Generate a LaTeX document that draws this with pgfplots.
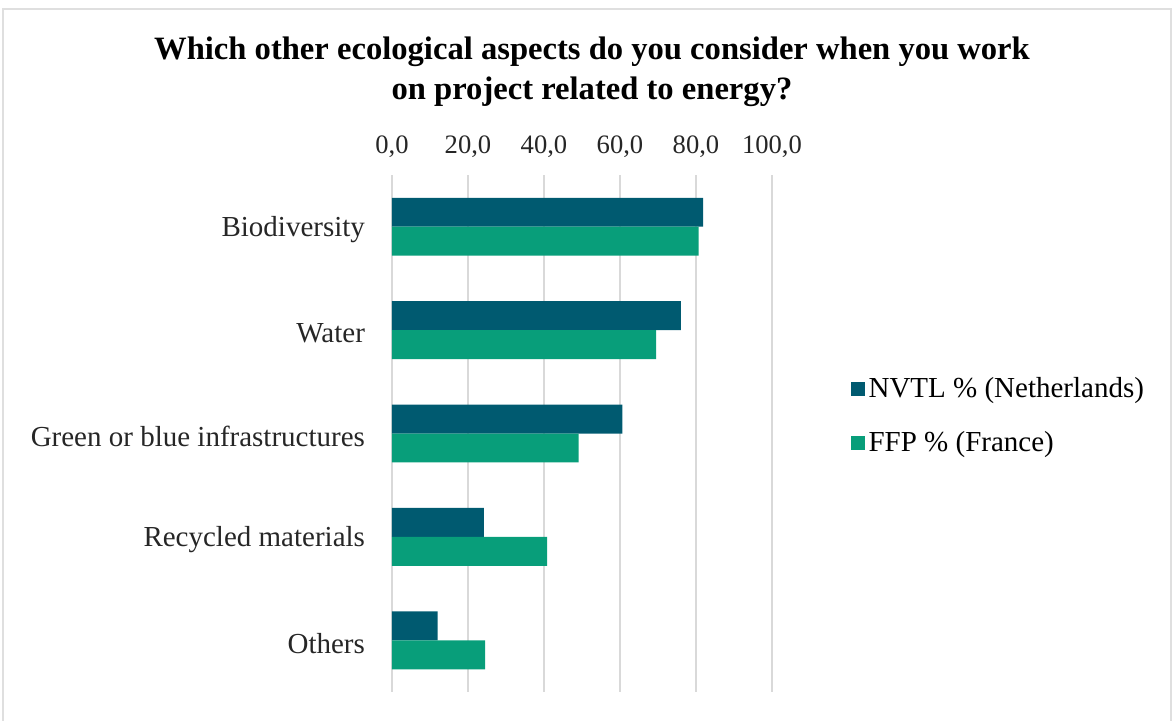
\documentclass[border=0pt]{standalone}
\usepackage{pgfplots}
\pgfplotsset{compat=1.18}
\usepackage{fontspec}
\setmainfont{Liberation Serif}
\definecolor{nvtl}{RGB}{0,90,112}
\definecolor{ffp}{RGB}{8,158,122}
\definecolor{gridc}{RGB}{217,217,217}
\begin{document}
\begin{tikzpicture}
\useasboundingbox (0pt,0pt) rectangle (587.5pt,-360pt);
\draw[gray!25, line width=1.2pt] (1.5pt,-365pt) -- (1.5pt,-4.5pt) -- (585.5pt,-4.5pt) -- (585.5pt,-365pt);
\node[font=\bfseries\fontsize{16.3}{20}\selectfont, align=center] at (296pt,-36pt) {Which other ecological aspects do you consider when you work\\on project related to energy?};
\begin{axis}[
  at={(196pt,-346pt)}, anchor=south west,
  scale only axis, width=190pt, height=258.5pt,
  xbar, bar width=0.28,
  xmin=0, xmax=100,
  ymin=-0.5, ymax=4.5, y dir=reverse,
  ytick={0,1,2,3,4},
  yticklabels={Biodiversity,Water,Green or blue infrastructures,Recycled materials,Others},
  xtick={0,20,40,60,80,100},
  xticklabel pos=upper,
  axis line style={draw=none},
  major tick length=0pt,
  xmajorgrids, grid style={gridc, line width=1pt},
  tick label style={text=black!85},
  yticklabel style={font=\fontsize{14.5}{16}\selectfont, xshift=-10pt, yshift=-1.5pt},
  /pgf/number format/assume math mode=true,
  x tick label style={font=\fontsize{13.3}{15}\selectfont, yshift=5pt, /pgf/number format/.cd, fixed, fixed zerofill, precision=1, use comma},
  legend style={at={(rel axis cs:1.19,0.534)}, anchor=west, draw=none, fill=none,
    font=\fontsize{14.5}{16}\selectfont, row sep=11pt, cells={anchor=west}},
  legend image code/.code={\fill[#1] (0pt,-3.5pt) rectangle (7pt,3.5pt);},
]
\addplot[fill=nvtl, draw=none, bar shift=-0.14] coordinates {(81.9,0) (76.0,1) (60.6,2) (24.2,3) (12.0,4)};
\addplot[fill=ffp, draw=none, bar shift=0.14] coordinates {(80.7,0) (69.5,1) (49.1,2) (40.8,3) (24.5,4)};
\legend{NVTL \% (Netherlands), FFP \% (France)}
\end{axis}
\end{tikzpicture}
\end{document}
